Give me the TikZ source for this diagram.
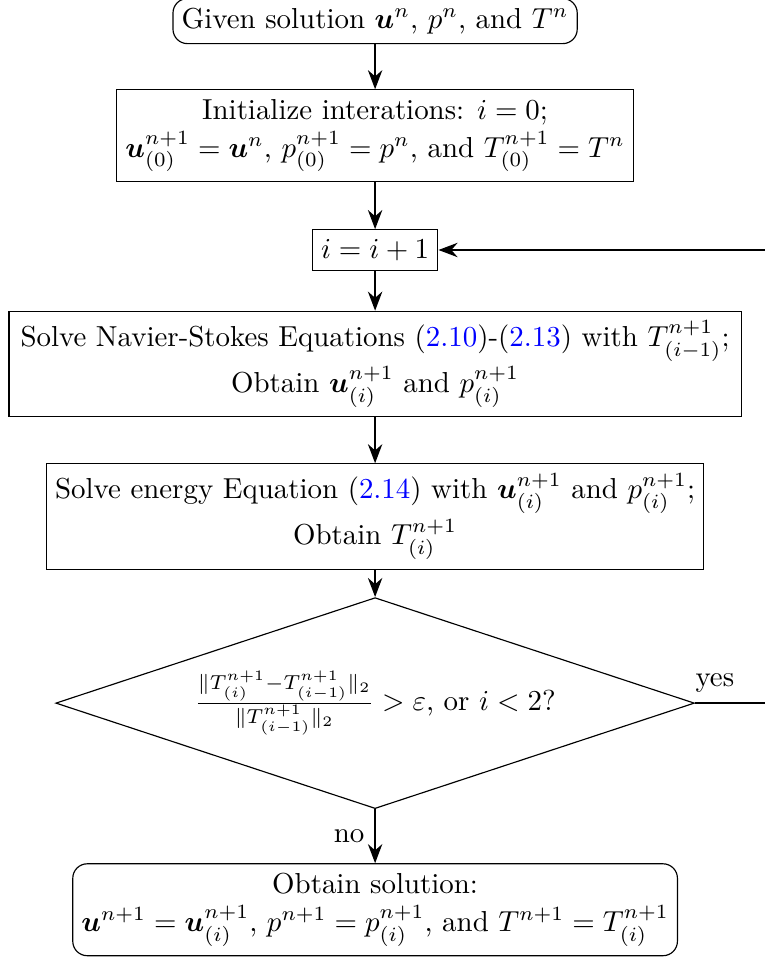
\documentclass[tikz,border=0pt]{standalone}
\usepackage{amsmath,bm}
\usepackage{xcolor}
\usetikzlibrary{arrows.meta,positioning,shapes.geometric}

\begin{document}
\begin{tikzpicture}[
  node distance=15.6pt,
  stage/.style={draw, align=center, inner xsep=3pt, inner ysep=3.3pt},
  endstage/.style={stage, rounded corners=5pt},
  check/.style={draw, diamond, aspect=3, align=center, inner sep=0pt,
                minimum width=221pt, minimum height=73pt},
  arrow/.style={thick, -{Stealth}}
]
  \useasboundingbox (-129.8pt,7.3pt) rectangle (134.6pt,-324.2pt);
  \node[endstage] (given) at (0,0) {Given solution $\bm{u}^n$, $p^n$, and $T^n$};
  \node[stage, below=of given] (init) {Initialize interations: $i=0$;\\[1pt]
    $\bm{u}^{n+1}_{(0)}=\bm{u}^n$, $p^{n+1}_{(0)}=p^n$, and $T^{n+1}_{(0)}=T^n$};
  \node[stage, below=16.3pt of init] (inc) {$i=i+1$};
  \node[stage, text width=247.4pt, below=13.8pt of inc] (ns) {Solve Navier-Stokes Equations (\textcolor{blue}{2.10})-(\textcolor{blue}{2.13}) with $T^{n+1}_{(i-1)}$;\\[1pt]
    Obtain $\bm{u}^{n+1}_{(i)}$ and $p^{n+1}_{(i)}$};
  \node[stage, below=15.9pt of ns] (energy) {Solve energy Equation (\textcolor{blue}{2.14}) with $\bm{u}^{n+1}_{(i)}$ and $p^{n+1}_{(i)}$;\\[1pt]
    Obtain $T^{n+1}_{(i)}$};
  \node[check, below=9.4pt of energy] (conv) {$\frac{\|T^{n+1}_{(i)}-T^{n+1}_{(i-1)}\|_2}{\|T^{n+1}_{(i-1)}\|_2}>\varepsilon$, or $i<2$?};
  \node[endstage, below=18.7pt of conv] (sol) {Obtain solution:\\[1pt]
    $\bm{u}^{n+1}=\bm{u}^{n+1}_{(i)}$, $p^{n+1}=p^{n+1}_{(i)}$, and $T^{n+1}=T^{n+1}_{(i)}$};
  \coordinate (back) at (145pt,0);
  \draw[arrow] (given) -- (init);
  \draw[arrow] (init) -- (inc);
  \draw[arrow] (inc) -- (ns);
  \draw[arrow] (ns) -- (energy);
  \draw[arrow] (energy) -- (conv);
  \draw[arrow] (conv) -- node[left] {no} (sol);
  \draw[arrow] (conv.east) -- node[above, pos=0.2] {yes} (conv.east -| back) |- (inc.east);
\end{tikzpicture}
\end{document}
